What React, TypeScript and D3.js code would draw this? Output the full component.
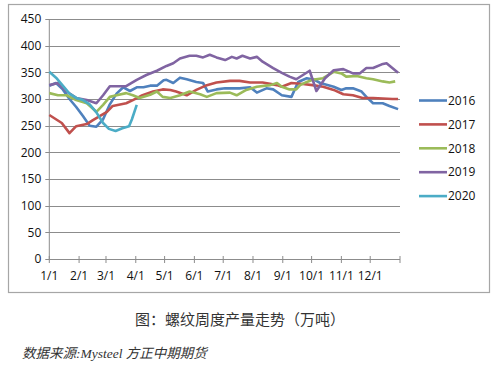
import React, { useEffect, useRef } from 'react';
import * as d3 from 'd3';

// weekly rebar output (10k tonnes)
const years = ['2016', '2017', '2018', '2019', '2020'];
const colors = ['#4F81BD', '#C0504D', '#9BBB59', '#8064A2', '#4BACC6'];

const series2016: [string, number][] = [
  ['1/1', 325], ['1/8', 330], ['1/15', 318], ['1/22', 300], ['1/29', 285], ['2/5', 268],
  ['2/12', 250], ['2/19', 248], ['2/26', 262], ['3/5', 290], ['3/12', 310], ['3/19', 322],
  ['3/26', 315], ['4/2', 322], ['4/9', 322], ['4/16', 325], ['4/23', 325], ['4/30', 335],
  ['5/3', 336], ['5/10', 330], ['5/17', 340], ['5/24', 337], ['6/3', 332], ['6/10', 330],
  ['6/15', 314], ['6/24', 318], ['7/3', 320], ['7/10', 320], ['7/18', 320], ['7/29', 322],
  ['8/5', 312], ['8/15', 320], ['8/22', 318], ['8/31', 307], ['9/10', 304], ['9/17', 332],
  ['9/26', 339], ['10/4', 336], ['10/10', 330], ['10/24', 323], ['11/1', 317], ['11/6', 320],
  ['11/13', 320], ['11/22', 314], ['11/27', 304], ['12/4', 292], ['12/14', 292], ['12/21', 287],
  ['12/30', 281],
];

const series2017: [string, number][] = [
  ['1/1', 270], ['1/14', 255], ['1/22', 236], ['1/29', 249], ['2/9', 253], ['2/15', 260],
  ['3/2', 276], ['3/8', 287], ['3/22', 292], ['3/29', 298], ['4/8', 307], ['4/19', 314],
  ['4/29', 318], ['5/7', 317], ['5/13', 314], ['5/24', 307], ['6/3', 317], ['6/14', 326],
  ['6/24', 331], ['7/8', 334], ['7/18', 334], ['7/29', 331], ['8/11', 331], ['8/26', 326],
  ['8/31', 323], ['9/10', 330], ['9/22', 328], ['10/2', 326], ['10/13', 323], ['10/24', 317],
  ['11/3', 309], ['11/13', 307], ['11/23', 302], ['12/4', 302], ['12/14', 301], ['12/24', 300],
  ['12/30', 300],
];

const series2018: [string, number][] = [
  ['1/1', 311], ['1/10', 307], ['1/19', 307], ['1/29', 298], ['2/9', 292], ['2/19', 276],
  ['2/26', 289], ['3/5', 304], ['3/12', 307], ['3/22', 311], ['3/29', 307], ['4/5', 302],
  ['4/16', 308], ['4/23', 314], ['4/29', 304], ['5/7', 302], ['5/17', 307], ['5/27', 314],
  ['6/7', 309], ['6/14', 304], ['6/24', 311], ['7/8', 312], ['7/15', 307], ['7/25', 317],
  ['8/5', 323], ['8/19', 326], ['8/26', 330], ['8/31', 323], ['9/8', 318], ['9/15', 318],
  ['9/19', 326], ['9/26', 332], ['10/2', 336], ['10/13', 339], ['10/24', 351], ['11/1', 348],
  ['11/6', 342], ['11/17', 343], ['11/27', 339], ['12/4', 337], ['12/14', 333], ['12/21', 331],
  ['12/27', 333],
];

const series2019: [string, number][] = [
  ['1/1', 326], ['1/10', 330], ['1/19', 314], ['1/29', 302], ['2/9', 298], ['2/19', 292],
  ['2/26', 307], ['3/5', 324], ['3/15', 324], ['3/22', 324], ['4/2', 336], ['4/12', 345],
  ['4/23', 353], ['5/3', 362], ['5/10', 367], ['5/17', 376], ['5/27', 381], ['6/3', 381],
  ['6/10', 378], ['6/17', 383], ['6/24', 378], ['7/3', 373], ['7/10', 379], ['7/15', 376],
  ['7/21', 381], ['7/29', 376], ['8/5', 379], ['8/11', 370], ['8/22', 358], ['8/31', 349],
  ['9/8', 342], ['9/15', 337], ['9/22', 345], ['9/29', 353], ['10/6', 315], ['10/15', 339],
  ['10/24', 354], ['11/3', 356], ['11/13', 348], ['11/20', 348], ['11/27', 358], ['12/4', 358],
  ['12/13', 365], ['12/18', 367], ['12/24', 358], ['12/30', 349],
];

const series2020: [string, number][] = [
  ['1/1', 351], ['1/8', 340], ['1/15', 325], ['1/22', 310], ['1/29', 302], ['2/5', 298],
  ['2/12', 290], ['2/19', 275], ['2/26', 255], ['3/4', 244], ['3/11', 240], ['3/18', 245],
  ['3/25', 249], ['3/28', 262], ['4/2', 289],
];

const allSeries = [series2016, series2017, series2018, series2019, series2020];
const yTicks = [0, 50, 100, 150, 200, 250, 300, 350, 400, 450];

const caption = '图：螺纹周度产量走势（万吨）';
const source = '数据来源:Mysteel  方正中期期货';

const W = 500;
const H = 366;

const App: React.FC = () => {
  const svgRef = useRef<SVGSVGElement>(null);

  useEffect(() => {
    if (!svgRef.current) return;
    const svg = d3.select(svgRef.current);
    svg.selectAll('*').remove();

    const parse = d3.timeParse('%Y/%m/%d');
    const toDate = (md: string) => parse('2019/' + md) as Date;

    const x = d3.scaleTime()
      .domain([new Date(2019, 0, 1), new Date(2020, 0, 1)])
      .range([49.3, 400]);
    const y = d3.scaleLinear().domain([0, 450]).range([259, 19]);

    // chart frame
    svg.append('rect')
      .attr('x', 8.5).attr('y', 4.5).attr('width', 481).attr('height', 288)
      .attr('fill', '#fff').attr('stroke', '#a6a6a6').attr('stroke-width', 1.2);

    // gridlines + y labels
    const [x0, x1] = x.range();
    yTicks.forEach(t => {
      svg.append('line')
        .attr('x1', x0 - 4).attr('x2', x1)
        .attr('y1', Math.round(y(t)) + 0.5).attr('y2', Math.round(y(t)) + 0.5)
        .attr('stroke', '#8c8c8c').attr('stroke-width', 1);
      svg.append('text')
        .attr('x', x0 - 8).attr('y', y(t)).attr('dy', '0.35em')
        .attr('text-anchor', 'end')
        .attr('font-family', 'Open Sans').attr('font-size', 12).attr('fill', '#111')
        .text(String(t));
    });

    // y axis line
    svg.append('line')
      .attr('x1', x0).attr('x2', x0).attr('y1', y(450)).attr('y2', y(0))
      .attr('stroke', '#8c8c8c');

    // x ticks and labels (one per month start)
    const months = d3.timeMonth.range(new Date(2019, 0, 1), new Date(2019, 11, 2));
    const fmt = d3.timeFormat('%-m/%-d');
    months.forEach(m => {
      svg.append('line')
        .attr('x1', x(m)).attr('x2', x(m)).attr('y1', y(0) - 3).attr('y2', y(0) + 4)
        .attr('stroke', '#8c8c8c');
      svg.append('text')
        .attr('x', x(m)).attr('y', 280)
        .attr('text-anchor', 'middle')
        .attr('font-family', 'Open Sans').attr('font-size', 12).attr('fill', '#111')
        .text(fmt(m));
    });
    svg.append('line')
      .attr('x1', x1).attr('x2', x1).attr('y1', y(0) - 3).attr('y2', y(0) + 4)
      .attr('stroke', '#8c8c8c');

    // series lines
    const line = d3.line<[string, number]>()
      .x(d => x(toDate(d[0])))
      .y(d => y(d[1]));

    allSeries.forEach((s, i) => {
      svg.append('path')
        .attr('d', line(s) || '')
        .attr('fill', 'none')
        .attr('stroke', colors[i])
        .attr('stroke-width', 2.6)
        .attr('stroke-linejoin', 'round');
    });

    // legend
    years.forEach((yr, i) => {
      const ly = 100.5 + i * 23.9;
      svg.append('line')
        .attr('x1', 419).attr('x2', 447).attr('y1', ly).attr('y2', ly)
        .attr('stroke', colors[i]).attr('stroke-width', 2.6);
      svg.append('text')
        .attr('x', 448).attr('y', ly).attr('dy', '0.35em')
        .attr('font-family', 'Open Sans').attr('font-size', 12).attr('fill', '#111')
        .text(yr);
    });

    // caption and source
    svg.append('text')
      .attr('x', 240).attr('y', 325).attr('text-anchor', 'middle')
      .attr('font-family', '"Noto Sans CJK SC", sans-serif').attr('font-size', 15)
      .attr('fill', '#333')
      .text(caption);

    svg.append('text')
      .attr('x', 22).attr('y', 358)
      .attr('font-family', '"Liberation Serif", "Noto Sans CJK SC", serif')
      .attr('font-style', 'italic').attr('font-size', 13.5)
      .attr('fill', '#333')
      .text(source);
  }, []);

  return (
    <div style={{ position: 'absolute', left: 0, top: 0, width: W, height: H, background: '#fff' }}>
      <svg ref={svgRef} width={W} height={H} style={{ display: 'block' }} />
    </div>
  );
};

export default App;
